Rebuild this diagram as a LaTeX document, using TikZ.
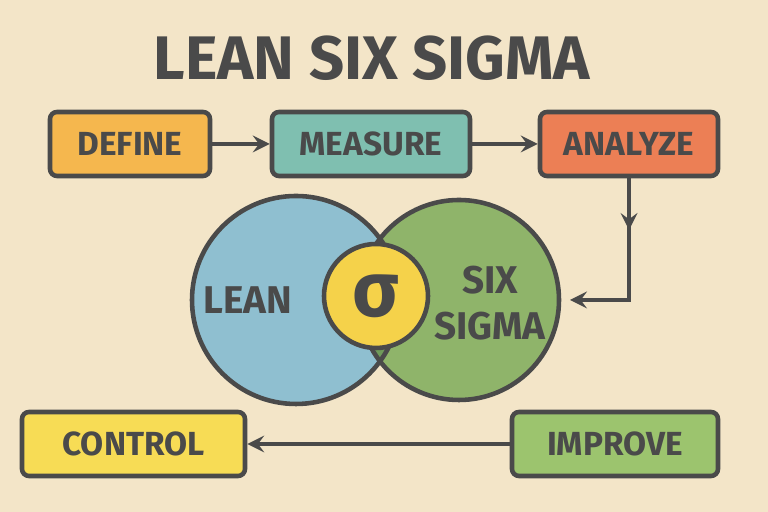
\documentclass[tikz,border=0pt]{standalone}
\usepackage{fontspec}
\setmainfont{Fira Sans}
\usetikzlibrary{positioning}
\definecolor{ink}{HTML}{4A4A4A}
\definecolor{paper}{HTML}{F3E5C8}
\definecolor{cdefine}{HTML}{F5B74E}
\definecolor{cmeasure}{HTML}{7FBFB0}
\definecolor{canalyze}{HTML}{EC7F55}
\definecolor{ccontrol}{HTML}{F7DC55}
\definecolor{cimprove}{HTML}{9CC46E}
\definecolor{clean}{HTML}{8FBFD0}
\definecolor{csix}{HTML}{8FB46A}
\definecolor{clens}{HTML}{6F9A5A}
\definecolor{csigma}{HTML}{F5D24A}

\begin{document}
\begin{tikzpicture}[
	phase/.style={draw=ink,line width=1.3pt,rounded corners=2pt,minimum height=0.64cm,
		text=ink,font=\bfseries\fontsize{9.5}{10}\selectfont},
	flow/.style={draw=ink,line width=1.1pt,->,>=stealth}
]
	% background
	\fill[paper] (0,0) rectangle (7.68,5.12);
	\useasboundingbox (0,0) rectangle (7.68,5.12);

	% title
	\node[text=ink,font=\bfseries\fontsize{17.5}{20}\selectfont] (title) at (3.72,4.54) {LEAN SIX SIGMA};

	% phases
	\node[phase,fill=cdefine,minimum width=1.6cm] (define) at (1.30,3.68) {DEFINE};
	\node[phase,fill=cmeasure,minimum width=1.98cm] (measure) at (3.71,3.68) {MEASURE};
	\node[phase,fill=canalyze,minimum width=1.78cm] (analyze) at (6.29,3.68) {ANALYZE};
	\node[phase,fill=ccontrol,minimum width=2.23cm] (control) at (1.335,0.68) {CONTROL};
	\node[phase,fill=cimprove,minimum width=2.06cm] (improve) at (6.15,0.68) {IMPROVE};

	% venn
	\fill[clean] (2.96,2.12) circle (1.04);
	\fill[csix] (4.59,2.12) circle (1.0);
	\begin{scope}
		\clip (2.96,2.12) circle (1.04);
		\fill[clens] (4.59,2.12) circle (1.0);
	\end{scope}
	\draw[ink,line width=1.3pt] (2.96,2.12) circle (1.04);
	\draw[ink,line width=1.3pt] (4.59,2.12) circle (1.0);
	\node[circle,draw=ink,line width=1.3pt,fill=csigma,minimum size=1.04cm,text=ink,
		font=\bfseries\fontsize{22}{22}\selectfont,inner sep=0pt] (sigma) at (3.76,2.16) {σ};
	\node[text=ink,font=\bfseries\fontsize{11}{12}\selectfont] (lean) at (2.48,2.12) {LEAN};
	\node[text=ink,font=\bfseries\fontsize{11}{13}\selectfont,align=center] (six) at (4.90,2.09) {SIX\\SIGMA};
	\coordinate (sixin) at (5.70,2.12);

	% connectors
	\draw[flow] (define) -- (measure);
	\draw[flow] (measure) -- (analyze);
	\draw[flow] (analyze.south) -- (6.29,2.12) -- (sixin);
	\draw[ink,line width=1.1pt,->,>=stealth] (6.29,3.36) -- (6.29,2.82);
	\draw[flow] (improve) -- (control);
\end{tikzpicture}
\end{document}
